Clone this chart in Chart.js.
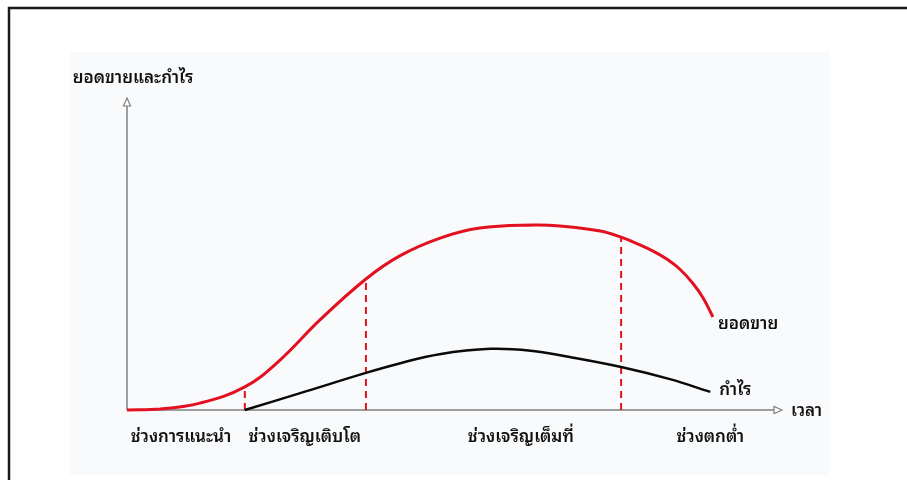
<!DOCTYPE html>
<html lang="th">
<head>
<meta charset="utf-8">
<title>วงจรชีวิตผลิตภัณฑ์</title>
<script src="https://cdn.jsdelivr.net/npm/chart.js@4.4.1/dist/chart.umd.min.js"></script>
<style>
  html, body { margin: 0; padding: 0; background: #ffffff; }
  #wrap { width: 907px; height: 480px; position: relative; }
</style>
</head>
<body>
<div id="wrap"><canvas id="plc" width="907" height="480"></canvas></div>
<script>
// Time axis runs 0..100, sales/profit axis runs 0..100
const timeSales   = [0, 5.1, 11.2, 18.1, 23.5, 29.6, 36.7, 41.9, 48.1, 54.2, 62.4, 66.5, 72.7, 75.9, 78.8, 81.1, 82.9, 84.9, 87.0, 88.5, 90.0];
const salesValues = [0, 0.3, 2.2, 7.4, 16.0, 28.8, 42.0, 49.4, 55.1, 58.3, 59.3, 59.0, 57.4, 55.4, 52.9, 50.6, 48.4, 45.2, 40.4, 35.9, 29.8];

const timeProfit   = [18.1, 26.6, 36.7, 42.0, 48.0, 55.8, 62.0, 68.0, 75.9, 83.4, 89.6];
const profitValues = [0, 5.4, 11.9, 15.0, 17.9, 19.6, 19.0, 17.0, 13.8, 9.9, 5.8];

// Stage boundaries (time) and where each stage label sits on the time axis
const stageBounds  = [18.1, 36.7, 75.9];
const stageLabelAt = [8.3, 27.3, 60.5, 89.6];
const stageLabels  = ['ช่วงการแนะนำ', 'ช่วงเจริญเติบโต', 'ช่วงเจริญเต็มที่', 'ช่วงตกต่ำ'];

const seriesNames = ['ยอดขาย', 'กำไร'];
const yAxisTitle  = 'ยอดขายและกำไร';
const xAxisTitle  = 'เวลา';

const FONT = '"Noto Sans Thai Looped", "Noto Sans Thai", "Noto Sans", "DejaVu Sans", sans-serif';
const TEXT_FONT = '600 17px ' + FONT;
const RED = '#e3101f';

const pts = (xs, ys) => xs.map((x, i) => ({ x, y: ys[i] }));

// each boundary line rises from the time axis to the sales curve
const boundaryDatasets = stageBounds.map(b => {
  const idx = timeSales.indexOf(b);
  return {
    data: [{ x: b, y: 0 }, { x: b, y: salesValues[idx] }],
    borderColor: RED,
    borderWidth: 2,
    borderDash: [7, 5],
    pointRadius: 0,
    tension: 0,
    clip: false,
    order: 3
  };
});

const frame = {
  id: 'frame',
  beforeDraw(chart) {
    const c = chart.ctx;
    c.save();
    c.fillStyle = '#ffffff';
    c.fillRect(0, 0, chart.width, chart.height);
    c.fillStyle = '#f9fafc';
    c.fillRect(70, 52, 760, 423);
    c.strokeStyle = '#1a1a1a';
    c.lineWidth = 2.5;
    c.beginPath();
    c.moveTo(9, 480);
    c.lineTo(9, 8);
    c.lineTo(907, 8);
    c.stroke();
    c.restore();
  },
  beforeDatasetsDraw(chart) {
    const c = chart.ctx;
    const xs = chart.scales.x, ys = chart.scales.y;
    const x0 = xs.getPixelForValue(0), y0 = ys.getPixelForValue(0);
    const xEnd = xs.getPixelForValue(100), yTop = ys.getPixelForValue(100);
    c.save();
    c.strokeStyle = '#808080';
    c.lineWidth = 1.5;
    c.beginPath();
    c.moveTo(x0, y0);
    c.lineTo(x0, yTop + 8);
    c.moveTo(x0, y0);
    c.lineTo(xEnd - 4, y0);
    c.stroke();
    // open arrowheads
    c.lineWidth = 1.2;
    c.fillStyle = '#ffffff';
    c.beginPath();
    c.moveTo(x0, yTop);
    c.lineTo(x0 - 3.5, yTop + 8);
    c.lineTo(x0 + 3.5, yTop + 8);
    c.closePath();
    c.fill(); c.stroke();
    c.beginPath();
    c.moveTo(xEnd + 4, y0);
    c.lineTo(xEnd - 4, y0 - 3.5);
    c.lineTo(xEnd - 4, y0 + 3.5);
    c.closePath();
    c.fill(); c.stroke();

    c.fillStyle = '#111111';
    c.font = TEXT_FONT;
    c.textBaseline = 'middle';
    c.textAlign = 'center';
    c.fillText(yAxisTitle, x0 + 6, 78);
    c.textAlign = 'left';
    c.fillText(xAxisTitle, xEnd + 13, y0 + 1);
    c.restore();
  },
  afterDatasetsDraw(chart) {
    const c = chart.ctx;
    const xs = chart.scales.x, ys = chart.scales.y;
    const sx = xs.getPixelForValue(timeSales[timeSales.length - 1]);
    const sy = ys.getPixelForValue(salesValues[salesValues.length - 1]);
    const px = xs.getPixelForValue(timeProfit[timeProfit.length - 1]);
    const py = ys.getPixelForValue(profitValues[profitValues.length - 1]);
    c.save();
    c.fillStyle = '#111111';
    c.font = TEXT_FONT;
    c.textBaseline = 'middle';
    c.textAlign = 'left';
    c.fillText(seriesNames[0], sx + 5, sy + 7);
    c.fillText(seriesNames[1], px + 9, py - 2);
    c.restore();
  }
};

new Chart(document.getElementById('plc'), {
  type: 'line',
  data: {
    datasets: [
      {
        label: seriesNames[0],
        data: pts(timeSales, salesValues),
        borderColor: RED,
        borderWidth: 3,
        tension: 0.4,
        pointRadius: 0,
        clip: false,
        order: 1
      },
      {
        label: seriesNames[1],
        data: pts(timeProfit, profitValues),
        borderColor: '#0a0a0a',
        borderWidth: 2.5,
        tension: 0.4,
        pointRadius: 0,
        clip: false,
        order: 2
      },
      ...boundaryDatasets
    ]
  },
  options: {
    responsive: false,
    animation: false,
    events: [],
    layout: { padding: { left: 127, right: 129, top: 98, bottom: 70 } },
    plugins: { legend: { display: false }, tooltip: { enabled: false }, title: { display: false } },
    scales: {
      x: { type: 'linear', min: 0, max: 100, display: false },
      y: { type: 'linear', min: 0, max: 100, display: false }
    }
  },
  plugins: [frame, {
    id: 'stageLabels',
    afterDraw(chart) {
      const c = chart.ctx;
      const xs = chart.scales.x, ys = chart.scales.y;
      const y0 = ys.getPixelForValue(0);
      c.save();
      c.fillStyle = '#111111';
      c.font = TEXT_FONT;
      c.textBaseline = 'middle';
      c.textAlign = 'center';
      stageLabelAt.forEach((v, i) => c.fillText(stageLabels[i], xs.getPixelForValue(v), y0 + 27));
      c.restore();
    }
  }]
});
</script>
</body>
</html>
